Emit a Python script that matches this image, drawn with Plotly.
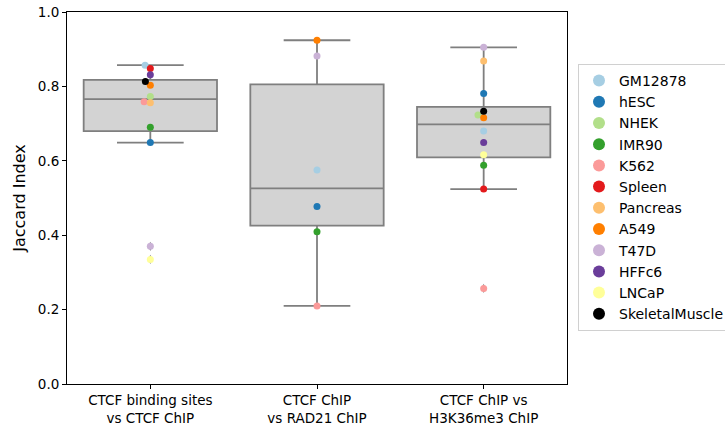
import numpy as np
import plotly.graph_objects as go

# Comparison categories (x axis)
categories = [
    "CTCF binding sites<br>vs CTCF ChIP",
    "CTCF ChIP<br>vs RAD21 ChIP",
    "CTCF ChIP vs<br>H3K36me3 ChIP",
]

# Cell lines and their Jaccard index per comparison (None = not available)
cell_lines = ["GM12878", "hESC", "NHEK", "IMR90", "K562", "Spleen",
              "Pancreas", "A549", "T47D", "HFFc6", "LNCaP", "SkeletalMuscle"]

GM12878 = [0.857, 0.575, 0.680]
hESC = [0.649, 0.477, 0.781]
NHEK = [0.773, None, 0.723]
IMR90 = [0.690, 0.409, 0.588]
K562 = [0.759, 0.210, 0.257]
Spleen = [0.848, None, 0.524]
Pancreas = [0.756, None, 0.868]
A549 = [0.803, 0.924, 0.716]
T47D = [0.370, 0.882, 0.905]
HFFc6 = [0.831, None, 0.649]
LNCaP = [0.335, None, 0.616]
SkeletalMuscle = [0.813, None, 0.733]

values = [GM12878, hESC, NHEK, IMR90, K562, Spleen,
          Pancreas, A549, T47D, HFFc6, LNCaP, SkeletalMuscle]

colors = ["#a6cee3", "#1f78b4", "#b2df8a", "#33a02c", "#fb9a99", "#e31a1c",
          "#fdbf6f", "#ff7f00", "#cab2d6", "#6a3d9a", "#ffff99", "#000000"]

# Figure geometry
W, H = 725, 426
M_L, M_R, M_T, M_B = 67, 158, 12, 42
plot_w = W - M_L - M_R
plot_h = H - M_T - M_B
px_per_x = plot_w / 3.0      # x range is [-0.5, 2.5]
px_per_y = plot_h / 1.0      # y range is [0, 1]
DOT = 6.0                    # swarm spacing in pixels


def swarm_offsets(vals):
    """Seaborn-like beeswarm: place points (in pixel units) nearest to center."""
    order = np.argsort(vals, kind="stable")
    placed = []  # (x_px, y_px)
    offsets = [0.0] * len(vals)
    for i in order:
        y = vals[i] * px_per_y
        neigh = [(xj, yj) for xj, yj in placed if abs(y - yj) < DOT]
        cands = [0.0]
        left_first = True
        for xj, yj in neigh:
            dx = np.sqrt(max(DOT ** 2 - (y - yj) ** 2, 0)) * 1.05
            pair = [xj - dx, xj + dx] if left_first else [xj + dx, xj - dx]
            cands.extend(pair)
            left_first = not left_first
        cands_sorted = sorted(cands, key=lambda c: abs(c))
        chosen = cands_sorted[-1]
        for c in cands_sorted:
            if all((c - xj) ** 2 + (y - yj) ** 2 >= DOT ** 2 - 1e-9 for xj, yj in neigh):
                chosen = c
                break
        placed.append((chosen, y))
        offsets[i] = chosen / px_per_x
    return offsets


fig = go.Figure()

# Box statistics (numpy linear percentiles, 1.5 IQR whiskers)
box_x, q1s, meds, q3s, lows, highs = [], [], [], [], [], []
out_x, out_y = [], []
group_offsets = {}
for g in range(len(categories)):
    idx = [k for k in range(len(cell_lines)) if values[k][g] is not None]
    vals = np.array([values[k][g] for k in idx])
    q1, med, q3 = np.percentile(vals, [25, 50, 75])
    iqr = q3 - q1
    inside = vals[(vals >= q1 - 1.5 * iqr) & (vals <= q3 + 1.5 * iqr)]
    box_x.append(g)
    q1s.append(q1)
    meds.append(med)
    q3s.append(q3)
    lows.append(inside.min())
    highs.append(inside.max())
    for v in vals:
        if v < inside.min() or v > inside.max():
            out_x.append(g)
            out_y.append(v)
    offs = swarm_offsets(list(vals))
    for k, o in zip(idx, offs):
        group_offsets[(k, g)] = o

fig.add_trace(go.Box(
    x=box_x, q1=q1s, median=meds, q3=q3s,
    lowerfence=lows, upperfence=highs,
    boxpoints=False,
    width=0.8, whiskerwidth=0.5,
    fillcolor="#d3d3d3",
    line=dict(color="#7f7f7f", width=1.8),
    showlegend=False, hoverinfo="skip",
))

# Outlier markers behind the swarm
fig.add_trace(go.Scatter(
    x=out_x, y=out_y, mode="markers",
    marker=dict(symbol="diamond-tall", color="#7f7f7f", size=6.5),
    showlegend=False, hoverinfo="skip",
))

# Swarm points per cell line
for k, name in enumerate(cell_lines):
    xs, ys = [], []
    for g in range(len(categories)):
        v = values[k][g]
        if v is None:
            continue
        xs.append(g + group_offsets[(k, g)])
        ys.append(v)
    fig.add_trace(go.Scatter(
        x=xs, y=ys, mode="markers", name=name,
        marker=dict(color=colors[k], size=7, line=dict(width=0)),
    ))

fig.update_layout(
    width=W, height=H,
    margin=dict(l=M_L, r=M_R, t=M_T, b=M_B, autoexpand=False),
    plot_bgcolor="white", paper_bgcolor="white",
    font=dict(family="DejaVu Sans", size=13.5, color="black"),
    legend=dict(
        x=1 + 11 / plot_w, xanchor="left",
        y=(H - M_B - 64) / plot_h, yanchor="top",
        bordercolor="#d0d0d0", borderwidth=1,
        bgcolor="white",
        font=dict(family="DejaVu Sans", size=14, color="black"),
        itemsizing="constant",
    ),
)

fig.update_xaxes(
    range=[-0.5, 2.5],
    tickvals=list(range(len(categories))), ticktext=categories,
    showline=True, linecolor="black", linewidth=1, mirror=True,
    ticks="outside", ticklen=4, tickcolor="black",
    showgrid=False, zeroline=False,
)
fig.update_yaxes(
    range=[0, 1], dtick=0.2, tickformat=".1f",
    title=dict(text="Jaccard Index", standoff=8),
    showline=True, linecolor="black", linewidth=1, mirror=True,
    ticks="outside", ticklen=4, tickcolor="black",
    showgrid=False, zeroline=False,
)

fig.write_html("out.html")
